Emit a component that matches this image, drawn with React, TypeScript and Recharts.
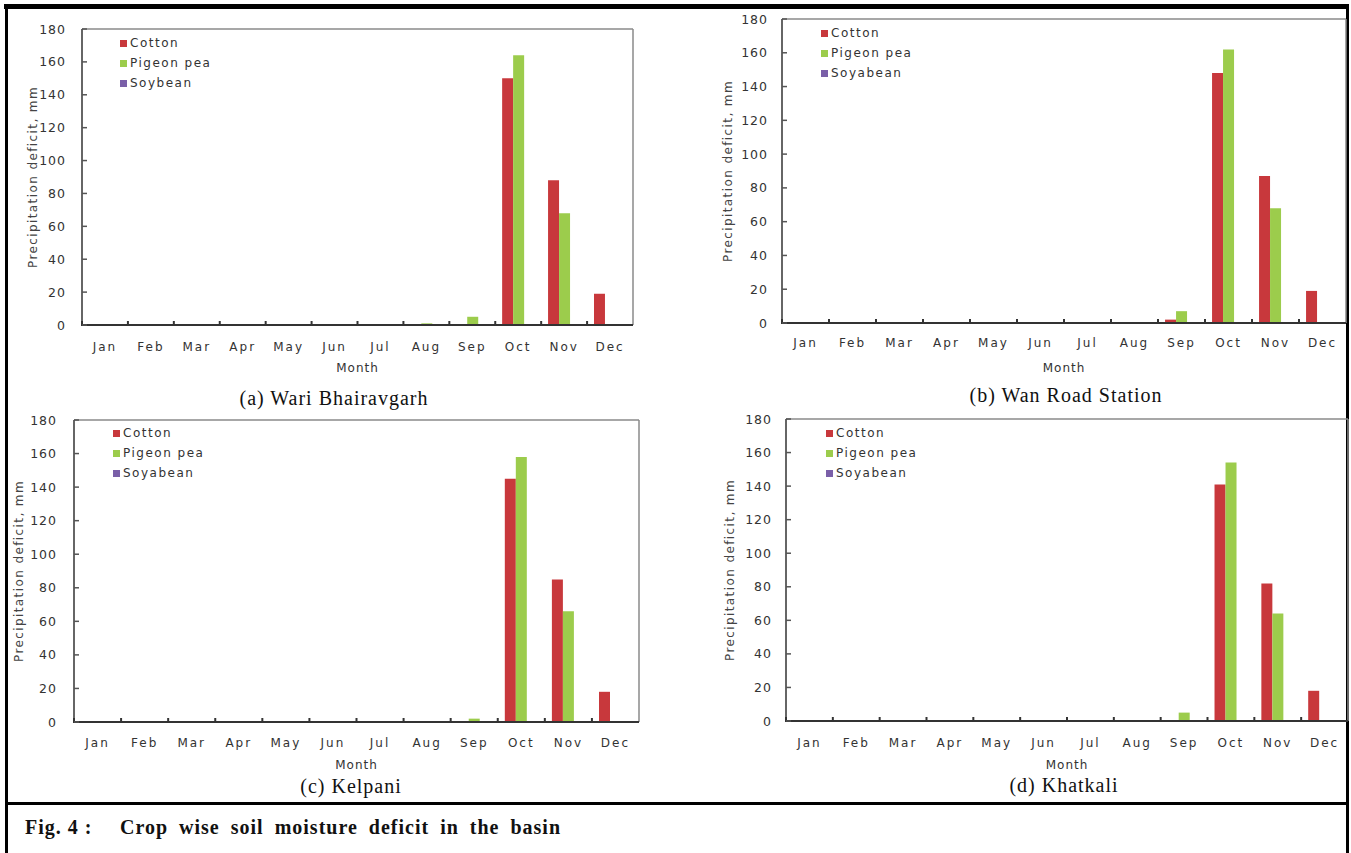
import { BarChart, Bar, XAxis, YAxis, Legend, CartesianGrid } from 'recharts';

const months = ['Jan', 'Feb', 'Mar', 'Apr', 'May', 'Jun', 'Jul', 'Aug', 'Sep', 'Oct', 'Nov', 'Dec'];
const yTicks = [0, 20, 40, 60, 80, 100, 120, 140, 160, 180];

// (a) Wari Bhairavgarh
const wariCotton = [0, 0, 0, 0, 0, 0, 0, 0, 0, 150, 88, 19];
const wariPigeon = [0, 0, 0, 0, 0, 0, 0, 1, 5, 164, 68, 0];
const wariSoybean = [0, 0, 0, 0, 0, 0, 0, 0, 0, 0, 0, 0];

// (b) Wan Road Station
const wanCotton = [0, 0, 0, 0, 0, 0, 0, 0, 2, 148, 87, 19];
const wanPigeon = [0, 0, 0, 0, 0, 0, 0, 0, 7, 162, 68, 0];
const wanSoyabean = [0, 0, 0, 0, 0, 0, 0, 0, 0, 0, 0, 0];

// (c) Kelpani
const kelpaniCotton = [0, 0, 0, 0, 0, 0, 0, 0, 0, 145, 85, 18];
const kelpaniPigeon = [0, 0, 0, 0, 0, 0, 0, 0, 2, 158, 66, 0];
const kelpaniSoyabean = [0, 0, 0, 0, 0, 0, 0, 0, 0, 0, 0, 0];

// (d) Khatkali
const khatkaliCotton = [0, 0, 0, 0, 0, 0, 0, 0, 0, 141, 82, 18];
const khatkaliPigeon = [0, 0, 0, 0, 0, 0, 0, 0, 5, 154, 64, 0];
const khatkaliSoyabean = [0, 0, 0, 0, 0, 0, 0, 0, 0, 0, 0, 0];

const RED = '#c8383c';
const GREEN = '#9ccc4c';
const PURPLE = '#7a5fa8';
const AXIS_FONT = '"DejaVu Sans", Arial, sans-serif';

const panels = [
  {
    caption: '(a) Wari Bhairavgarh', soyName: 'Soybean',
    cotton: wariCotton, pigeon: wariPigeon, soy: wariSoybean,
    l: 82, r: 633, t: 29, b: 325, labelX: 33, yGap: 16, xDy: 22, monthDy: 43,
    legX: 120, legY: 33, capX: 334, capY: 398,
  },
  {
    caption: '(b) Wan Road Station', soyName: 'Soyabean',
    cotton: wanCotton, pigeon: wanPigeon, soy: wanSoyabean,
    l: 782, r: 1346, t: 19, b: 323, labelX: 728, yGap: 14, xDy: 20, monthDy: 45,
    legX: 821, legY: 23, capX: 1066, capY: 395,
  },
  {
    caption: '(c) Kelpani', soyName: 'Soyabean',
    cotton: kelpaniCotton, pigeon: kelpaniPigeon, soy: kelpaniSoyabean,
    l: 74, r: 639, t: 420, b: 722, labelX: 19, yGap: 17, xDy: 21, monthDy: 43,
    legX: 113, legY: 423, capX: 351, capY: 786,
  },
  {
    caption: '(d) Khatkali', soyName: 'Soyabean',
    cotton: khatkaliCotton, pigeon: khatkaliPigeon, soy: khatkaliSoyabean,
    l: 786, r: 1348, t: 419, b: 721, labelX: 730, yGap: 14, xDy: 22, monthDy: 44,
    legX: 826, legY: 423, capX: 1064, capY: 785,
  },
];

function MonthTick(props: any) {
  const { x, y, payload, band, dy } = props;
  return (
    <g>
      <line x1={x - band / 2} x2={x - band / 2} y1={y - 4} y2={y + 1} stroke="#333" strokeWidth={2} />
      <text x={x} y={y + dy} textAnchor="middle" dominantBaseline="central" fontSize={12}
        fontFamily={AXIS_FONT} letterSpacing={2} fill="#333">
        {payload.value}
      </text>
    </g>
  );
}

function ValueTick(props: any) {
  const { x, y, payload, gap } = props;
  return (
    <g>
      <line x1={x} x2={x + 5} y1={y} y2={y} stroke="#555" strokeWidth={1.5} />
      <text x={x - gap} y={y} textAnchor="end" dominantBaseline="central" fontSize={12.5}
        fontFamily={AXIS_FONT} letterSpacing={1} fill="#333">
        {payload.value}
      </text>
    </g>
  );
}

function LegendBox(props: any) {
  const items = props.payload || [];
  return (
    <div style={{ fontFamily: AXIS_FONT, fontSize: 12, letterSpacing: 1.5, color: '#333' }}>
      {items.map((it: any) => (
        <div key={it.value} style={{ display: 'flex', alignItems: 'center', height: 20 }}>
          <span style={{ width: 7, height: 7, background: it.color, marginRight: 3, display: 'inline-block' }} />
          <span>{it.value}</span>
        </div>
      ))}
    </div>
  );
}

function Panel({ p }: { p: any }) {
  const YW = 70, TOP = 10, XH = 55, RIGHT = 2;
  const plotW = p.r - p.l;
  const plotH = p.b - p.t;
  const left = p.l - YW;
  const top = p.t - TOP;
  const width = YW + plotW + RIGHT;
  const height = TOP + plotH + XH;
  const band = plotW / months.length;
  const rows = months.map((m, i) => ({ month: m, cotton: p.cotton[i], pigeon: p.pigeon[i], soy: p.soy[i] }));

  return (
    <div style={{ position: 'absolute', left, top, width, height }}>
      <BarChart width={width} height={height} data={rows}
        margin={{ top: TOP, right: RIGHT, bottom: 0, left: 0 }} barCategoryGap="15%" barGap={0}>
        {/* grey top and right edges of the plot frame */}
        <CartesianGrid stroke="#8a8a8a" strokeWidth={1.5}
          horizontalCoordinatesGenerator={({ offset }: any) => [offset.top]}
          verticalCoordinatesGenerator={({ offset }: any) => [offset.left + offset.width]} />
        <XAxis dataKey="month" height={XH} interval={0} tickSize={0} tickMargin={0} tickLine={false}
          axisLine={{ stroke: '#333', strokeWidth: 2 }}
          tick={(tp: any) => <MonthTick {...tp} band={band} dy={p.xDy} />}
          label={{
            position: 'insideBottom',
            content: (lp: any) => {
              const vb = lp.viewBox;
              return (
                <text x={vb.x + vb.width / 2} y={vb.y + p.monthDy} textAnchor="middle" dominantBaseline="central"
                  fontSize={12} fontFamily={AXIS_FONT} letterSpacing={1} fill="#333">Month</text>
              );
            },
          }} />
        <YAxis width={YW} domain={[0, 180]} ticks={yTicks} interval={0} tickSize={0} tickMargin={0}
          tickLine={false} axisLine={{ stroke: '#333', strokeWidth: 1.5 }}
          tick={(tp: any) => <ValueTick {...tp} gap={p.yGap} />}
          label={{
            position: 'insideLeft',
            content: (lp: any) => {
              const vb = lp.viewBox;
              const cx = vb.x + (p.labelX - left);
              const cy = vb.y + vb.height / 2;
              return (
                <text x={cx} y={cy} transform={`rotate(-90 ${cx} ${cy})`} textAnchor="middle"
                  dominantBaseline="central" fontSize={12} fontFamily={AXIS_FONT} letterSpacing={1.4} fill="#444">
                  Precipitation deficit, mm
                </text>
              );
            },
          }} />
        <Legend layout="vertical" align="center" verticalAlign="middle"
          wrapperStyle={{ left: p.legX - left, top: p.legY - top, width: 'auto' }}
          content={<LegendBox />} />
        <Bar dataKey="cotton" name="Cotton" fill={RED} isAnimationActive={false} />
        <Bar dataKey="pigeon" name="Pigeon pea" fill={GREEN} isAnimationActive={false} />
        <Bar dataKey="soy" name={p.soyName} fill={PURPLE} isAnimationActive={false} />
      </BarChart>
    </div>
  );
}

export default function App() {
  const serif = '"Liberation Serif", "Times New Roman", serif';
  return (
    <div style={{ position: 'absolute', left: 0, top: 0, width: 1351, height: 853, background: '#fff', overflow: 'hidden' }}>
      <div style={{ position: 'absolute', left: 4, top: 4, width: 1345, height: 5, background: '#000' }} />
      <div style={{ position: 'absolute', left: 5, top: 4, width: 3, height: 849, background: '#000' }} />
      <div style={{ position: 'absolute', left: 1346, top: 4, width: 3, height: 849, background: '#000' }} />
      <div style={{ position: 'absolute', left: 5, top: 802, width: 1344, height: 3, background: '#000' }} />

      {panels.map((p) => (
        <Panel key={p.caption} p={p} />
      ))}

      {panels.map((p) => (
        <div key={'cap' + p.caption} style={{
          position: 'absolute', left: p.capX - 200, top: p.capY - 12, width: 400, height: 24,
          textAlign: 'center', fontFamily: serif, fontSize: 20, letterSpacing: 1, lineHeight: '24px', color: '#111',
          whiteSpace: 'nowrap',
        }}>
          {p.caption}
        </div>
      ))}

      <div style={{
        position: 'absolute', left: 25, top: 814, height: 26, lineHeight: '26px', fontFamily: serif,
        fontSize: 20, fontWeight: 700, letterSpacing: 1, color: '#111', whiteSpace: 'nowrap',
      }}>
        Fig. 4 :
      </div>
      <div style={{
        position: 'absolute', left: 120, top: 814, height: 26, lineHeight: '26px', fontFamily: serif,
        fontSize: 20, fontWeight: 700, letterSpacing: 1, wordSpacing: 5, color: '#111', whiteSpace: 'nowrap',
      }}>
        Crop wise soil moisture deficit in the basin
      </div>
    </div>
  );
}
